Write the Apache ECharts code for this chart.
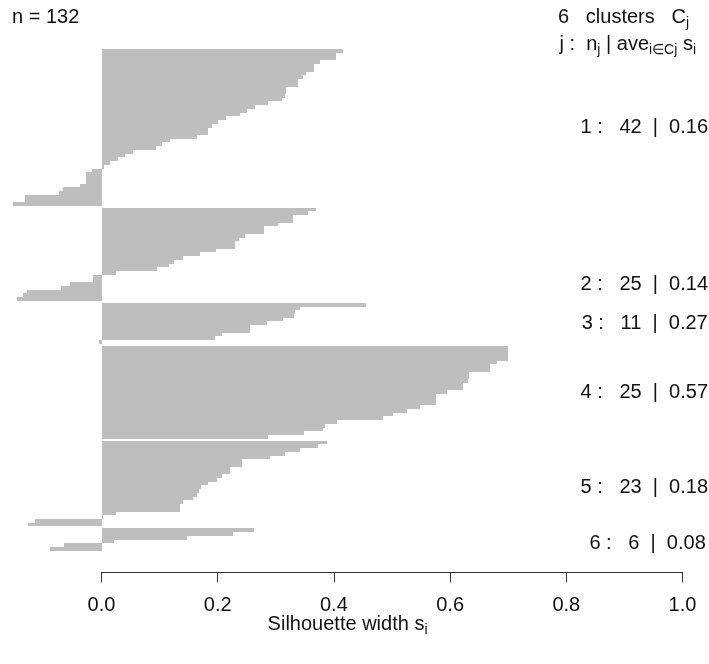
<!DOCTYPE html>
<html>
<head>
<meta charset="utf-8">
<script src="https://cdn.jsdelivr.net/npm/echarts@6/dist/echarts.min.js"></script>
<style>
  html, body { margin: 0; padding: 0; background: #ffffff; }
  #chart { width: 709px; height: 664px; }
</style>
</head>
<body>
<div id="chart"></div>
<script>
// Silhouette widths per cluster, sorted in decreasing order within each cluster
const clusterIds = [1, 2, 3, 4, 5, 6];
const sil1 = [0.415, 0.404, 0.403, 0.376, 0.366, 0.365, 0.352, 0.346, 0.339, 0.338,
              0.318, 0.317, 0.316, 0.310, 0.287, 0.264, 0.251, 0.238, 0.215, 0.201,
              0.190, 0.184, 0.184, 0.164, 0.118, 0.104, 0.094, 0.055, 0.040, 0.029,
              0.015, 0.005, -0.017, -0.027, -0.027, -0.027, -0.037, -0.066, -0.073, -0.132,
              -0.132, -0.153];
const sil2 = [0.369, 0.356, 0.329, 0.329, 0.304, 0.280, 0.280, 0.247, 0.237, 0.230,
              0.230, 0.197, 0.170, 0.140, 0.124, 0.116, 0.096, 0.025, -0.015, -0.015,
              -0.054, -0.070, -0.128, -0.135, -0.146];
const sil3 = [0.455, 0.341, 0.333, 0.331, 0.313, 0.285, 0.256, 0.256, 0.208, 0.195, -0.004];
const sil4 = [0.699, 0.699, 0.699, 0.699, 0.681, 0.668, 0.668, 0.633, 0.633, 0.631,
              0.622, 0.622, 0.594, 0.576, 0.576, 0.576, 0.548, 0.525, 0.502, 0.484,
              0.406, 0.385, 0.381, 0.349, 0.287];
const sil5 = [0.388, 0.372, 0.342, 0.316, 0.290, 0.241, 0.241, 0.221, 0.221, 0.207,
              0.198, 0.184, 0.172, 0.168, 0.164, 0.157, 0.140, 0.135, 0.135, 0.025,
              0.003, -0.115, -0.126];
const sil6 = [0.262, 0.226, 0.148, 0.022, -0.065, -0.088];
// Average silhouette width per cluster, as printed
const clusterAvg = ['0.16', '0.14', '0.27', '0.57', '0.18', '0.08'];
// Axis ticks
const xTicks = [0.0, 0.2, 0.4, 0.6, 0.8, 1.0];
const xTickLabels = ['0.0', '0.2', '0.4', '0.6', '0.8', '1.0'];

// ---- layout (kept apart from the values) ----
const FONT = '"Liberation Sans", Arial, Helvetica, sans-serif';
const MAIN = 20, SUB = 14, SUB_DY = 6;
const GAP = 0.5;                 // space between clusters, in bar heights
const labelRow = [21, 63.2, 73.5, 92, 117.5, 132.5]; // row at which each summary line is printed
const xLabelCenter = 0.4235;     // centre of the plotting region in data units

const sils = [sil1, sil2, sil3, sil4, sil5, sil6];
const n = sils.reduce((a, s) => a + s.length, 0);

// Build rows: [width, rowTop]
const rows = [];
let pos = 0;
sils.forEach((s, c) => {
  s.forEach((v) => {
    rows.push([v, pos]);
    pos += 1;
  });
  if (c < sils.length - 1) pos += GAP;
});
const totalRows = pos;

const mctx = document.createElement('canvas').getContext('2d');
function measure(t, size) { mctx.font = size + 'px ' + FONT; return mctx.measureText(t).width; }

function textEl(t, x, y, size, align, color) {
  return { type: 'text', x: x, y: y, silent: true,
    style: { text: t, fontSize: size, fontFamily: FONT, fill: color || '#111',
             align: align || 'left', verticalAlign: 'middle' } };
}
// a line made of normal and subscript fragments, laid out from an anchor
function richLine(frags, anchorX, y, align) {
  const w = frags.map(f => measure(f[0], f[1] ? SUB : MAIN));
  const total = w.reduce((a, b) => a + b, 0);
  let x = align === 'right' ? anchorX - total : align === 'center' ? anchorX - total / 2 : anchorX;
  const out = [];
  frags.forEach((f, i) => {
    out.push(textEl(f[0], x, y + (f[1] ? SUB_DY : 0), f[1] ? SUB : MAIN, 'left'));
    x += w[i];
  });
  return out;
}

const summaryData = clusterIds.map((id, c) => [1.0, labelRow[c], c]);

const chart = echarts.init(document.getElementById('chart'), null, { renderer: 'canvas' });
chart.setOption({
  animation: false,
  backgroundColor: '#ffffff',
  grid: [
    { left: 101.5 - 0.16 * 581, width: 1.16 * 581, top: 49.3, height: 501.4 },
    { left: 101.5, width: 581, top: 571, height: 1 }
  ],
  xAxis: [
    { type: 'value', gridIndex: 0, min: -0.16, max: 1.0, show: false },
    { type: 'value', gridIndex: 1, min: 0, max: 1, interval: 0.2, position: 'bottom',
      axisLine: { show: true, lineStyle: { color: '#333', width: 1 } },
      axisTick: { show: true, length: 10, lineStyle: { color: '#333' } },
      splitLine: { show: false },
      axisLabel: { margin: 23, fontSize: MAIN, fontFamily: FONT, color: '#111',
                   formatter: v => xTickLabels[xTicks.findIndex(t => Math.abs(t - v) < 1e-9)] } }
  ],
  yAxis: [
    { type: 'value', gridIndex: 0, min: 0, max: totalRows, inverse: true, show: false },
    { type: 'value', gridIndex: 1, show: false }
  ],
  series: [
    {
      type: 'custom', xAxisIndex: 0, yAxisIndex: 0,
      data: rows,
      renderItem: function (params, api) {
        const s = api.value(0), r = api.value(1);
        const p0 = api.coord([0, r]);
        const p1 = api.coord([s, r + 1]);
        // snap to whole pixels so stacked bars join without seams
        const x0 = Math.round(Math.min(p0[0], p1[0]));
        const x1 = Math.round(Math.max(p0[0], p1[0]));
        const y0 = Math.round(p0[1]);
        const y1 = Math.round(p1[1]);
        return { type: 'rect', shape: { x: x0, y: y0, width: x1 - x0, height: y1 - y0 },
                 style: { fill: '#bebebe' } };
      }
    },
    {
      type: 'custom', xAxisIndex: 0, yAxisIndex: 0,
      data: summaryData,
      renderItem: function (params, api) {
        const c = api.value(2);
        const p = api.coord([api.value(0), api.value(1)]);
        const t = clusterIds[c] + ' :   ' + sils[c].length + '  |  ' + clusterAvg[c];
        const w = measure(t, MAIN);
        return { type: 'text', x: p[0] - 0.8 * w, y: p[1],
                 style: { text: t, fontSize: MAIN, fontFamily: FONT, fill: '#111',
                          align: 'left', verticalAlign: 'middle' } };
      }
    }
  ]
});

const xMid = chart.convertToPixel({ xAxisIndex: 0 }, xLabelCenter);
const elements = [].concat(
  [textEl('n = ' + n, 12, 17, MAIN, 'left')],
  richLine([[clusterIds.length + '   clusters   C', 0], ['j', 1]], 689, 17, 'right'),
  richLine([['j :  n', 0], ['j', 1], [' | ave', 0], ['i\u2208Cj', 1], [' s', 0], ['i', 1]], 696, 44, 'right'),
  richLine([['Silhouette width s', 0], ['i', 1]], xMid, 624, 'center')
);
chart.setOption({ graphic: { elements: elements } });
</script>
</body>
</html>
